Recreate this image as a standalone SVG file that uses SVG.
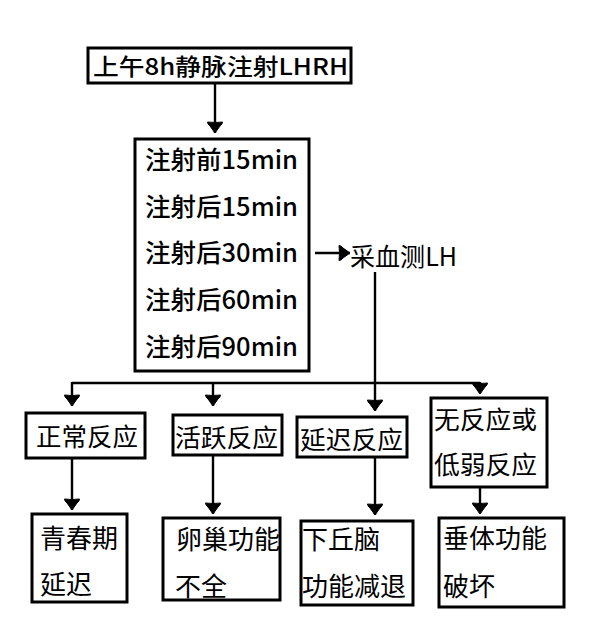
<svg xmlns="http://www.w3.org/2000/svg" width="593" height="636" viewBox="0 0 593 636">
<style>
.box{fill:#fff;stroke:#000;stroke-width:3}
.t{font-family:"Noto Sans CJK SC","Noto Sans",sans-serif;fill:#000}
.t23{font-size:23px}
.t25{font-size:25px}
.t26{font-size:26px}
.m{font-weight:500}
.c{fill:none;stroke:#000;stroke-width:2.4}
</style>
<defs>
<marker id="ah" markerUnits="userSpaceOnUse" markerWidth="18" markerHeight="18" refX="11" refY="0" viewBox="-1 -9 13 18" orient="auto">
<path d="M0,-7.5 Q2,-7.5 4,-5 L11,0 L4,5 Q2,7.5 0,7.5 Q1,0 0,-7.5 Z" fill="#000" stroke="#000" stroke-width="1" stroke-linejoin="round"/>
</marker>
</defs>
<rect width="593" height="636" fill="#fff"/>
<g id="connectors">
<line class="c" x1="215" y1="83" x2="215" y2="133" marker-end="url(#ah)"/>
<line class="c" x1="315" y1="253" x2="350" y2="253" marker-end="url(#ah)"/>
<line class="c" x1="375" y1="272" x2="375" y2="411" marker-end="url(#ah)"/>
<line class="c" x1="72" y1="383" x2="480" y2="383"/>
<line class="c" x1="72" y1="382" x2="72" y2="406" marker-end="url(#ah)"/>
<line class="c" x1="213" y1="383" x2="213" y2="406" marker-end="url(#ah)"/>
<line class="c" x1="480" y1="382" x2="480" y2="394" marker-end="url(#ah)"/>
<line class="c" x1="72" y1="458" x2="72" y2="510" marker-end="url(#ah)"/>
<line class="c" x1="213" y1="455" x2="213" y2="514" marker-end="url(#ah)"/>
<line class="c" x1="375" y1="457" x2="375" y2="515" marker-end="url(#ah)"/>
<line class="c" x1="480" y1="487" x2="480" y2="514" marker-end="url(#ah)"/>
</g>
<g id="start">
<rect class="box" x="88" y="48" width="263" height="35"/>
<text class="t t23 m" x="93" y="75" textLength="255" lengthAdjust="spacingAndGlyphs">上午8h静脉注射LHRH</text>
</g>
<g id="times">
<rect class="box" x="135" y="139" width="174" height="232"/>
<text class="t t25 m" x="145" y="169" textLength="153" lengthAdjust="spacingAndGlyphs">注射前15min</text>
<text class="t t25 m" x="145" y="216" textLength="153" lengthAdjust="spacingAndGlyphs">注射后15min</text>
<text class="t t25 m" x="145" y="262" textLength="153" lengthAdjust="spacingAndGlyphs">注射后30min</text>
<text class="t t25 m" x="145" y="309" textLength="153" lengthAdjust="spacingAndGlyphs">注射后60min</text>
<text class="t t25 m" x="145" y="356" textLength="153" lengthAdjust="spacingAndGlyphs">注射后90min</text>
</g>
<g id="sample">
<text class="t t25" x="350" y="266" textLength="107" lengthAdjust="spacingAndGlyphs">采血测LH</text>
</g>
<g id="normal">
<rect class="box" x="26" y="413" width="119" height="45"/>
<text class="t t25" x="36" y="446" textLength="102" lengthAdjust="spacingAndGlyphs">正常反应</text>
</g>
<g id="active">
<rect class="box" x="173" y="415" width="109" height="40"/>
<text class="t t25" x="175" y="447" textLength="103" lengthAdjust="spacingAndGlyphs">活跃反应</text>
</g>
<g id="delayed">
<rect class="box" x="297" y="417" width="110" height="40"/>
<text class="t t25" x="300" y="449" textLength="103" lengthAdjust="spacingAndGlyphs">延迟反应</text>
</g>
<g id="none">
<rect class="box" x="431" y="398" width="116" height="89"/>
<text class="t t25" x="434" y="429" textLength="103" lengthAdjust="spacingAndGlyphs">无反应或</text>
<text class="t t25" x="434" y="474" textLength="103" lengthAdjust="spacingAndGlyphs">低弱反应</text>
</g>
<g id="puberty">
<rect class="box" x="32" y="514" width="95" height="88"/>
<text class="t t26" x="40" y="548">青春期</text>
<text class="t t26" x="40" y="594">延迟</text>
</g>
<g id="ovary">
<rect class="box" x="163" y="518" width="117" height="82"/>
<text class="t t26" x="176" y="549">卵巢功能</text>
<text class="t t26" x="175" y="596">不全</text>
</g>
<g id="hypothalamus">
<rect class="box" x="301" y="521" width="112" height="84"/>
<text class="t t26" x="302" y="549">下丘脑</text>
<text class="t t26" x="302" y="596">功能减退</text>
</g>
<g id="pituitary">
<rect class="box" x="439" y="518" width="125" height="89"/>
<text class="t t26" x="443" y="548">垂体功能</text>
<text class="t t26" x="443" y="596">破坏</text>
</g>
</svg>
